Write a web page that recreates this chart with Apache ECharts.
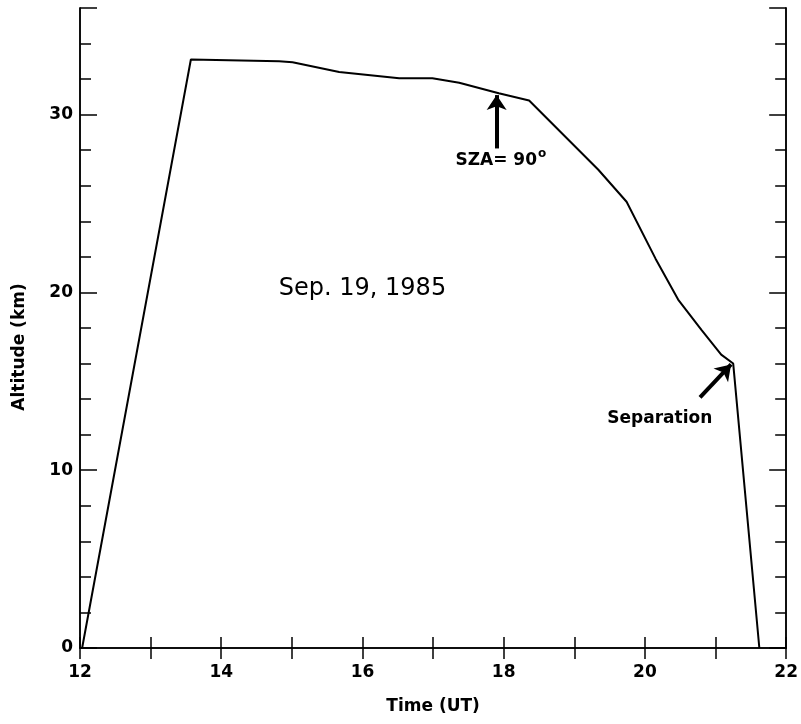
<!DOCTYPE html>
<html>
<head>
<meta charset="utf-8">
<script src="https://cdn.jsdelivr.net/npm/echarts@6/dist/echarts.min.js"></script>
<style>html,body{margin:0;padding:0;background:#fff;}#c{width:801px;height:724px;}</style>
</head>
<body>
<div id="c"></div>
<script>
// Flight profile, Sep. 19, 1985
const timeUT = [12.03, 13.57, 14.82, 15.01, 15.67, 16.52, 16.99, 17.37, 17.93, 18.36, 19.34, 19.74, 20.15, 20.47, 20.80, 21.08, 21.25, 21.62];
const altitudeKm = [0, 33.1, 33.0, 32.95, 32.4, 32.05, 32.05, 31.8, 31.2, 30.8, 26.9, 25.1, 21.9, 19.6, 17.9, 16.5, 16.0, 0];
const xTickLabels = [12, 14, 16, 18, 20, 22];
const yTickLabels = [0, 10, 20, 30];

const FONT = '"DejaVu Sans", sans-serif';
const chart = echarts.init(document.getElementById('c'));
const axisLine = {show: true, lineStyle: {color: '#000', width: 1.5}};

function xAx(pos, labels) {
  return {
    type: 'value', position: pos, min: 12, max: 22, interval: 1,
    axisLine: axisLine,
    axisTick: {show: true, inside: true, length: 11, lineStyle: {color: '#000', width: 1.5}},
    axisLabel: labels ? {show: true, margin: 16, color: '#000', fontSize: 17, fontFamily: FONT, fontWeight: 'bold',
      formatter: v => xTickLabels.indexOf(v) >= 0 ? String(v) : ''} : {show: false},
    splitLine: {show: false},
    name: labels ? 'Time (UT)' : '', nameLocation: 'middle', nameGap: 50,
    nameTextStyle: {color: '#000', fontSize: 17, fontFamily: FONT, fontWeight: 'bold'}
  };
}
function yAx(pos, interval, len, labels) {
  return {
    type: 'value', position: pos, min: 0, max: 36, interval: interval,
    axisLine: axisLine,
    axisTick: {show: true, inside: true, length: len, lineStyle: {color: '#000', width: 1.5}},
    axisLabel: labels ? {show: true, margin: 7, color: '#000', fontSize: 17, fontFamily: FONT, fontWeight: 'bold',
      formatter: v => yTickLabels.indexOf(v) >= 0 ? String(v) : ''} : {show: false},
    splitLine: {show: false},
    name: labels ? 'Altitude (km)' : '', nameLocation: 'middle', nameGap: 52, nameRotate: 90,
    nameTextStyle: {color: '#000', fontSize: 17, fontFamily: FONT, fontWeight: 'bold', padding: [0, 38, 0, 0]}
  };
}

const txt = (s, size, weight) => ({show: true, formatter: s, color: '#000', fontSize: size, fontFamily: FONT, fontWeight: weight, position: 'inside'});

chart.setOption({
  animation: false,
  backgroundColor: '#fff',
  grid: {left: 80, right: 13, top: 8, bottom: 76},
  xAxis: [xAx('bottom', true), xAx('top', false)],
  yAxis: [yAx('left', 2, 11, false), yAx('left', 10, 17, true), yAx('right', 2, 11, false), yAx('right', 10, 17, false)],
  series: [{
    type: 'line', xAxisIndex: 0, yAxisIndex: 0,
    data: timeUT.map((t, i) => [t, altitudeKm[i]]),
    showSymbol: false, symbol: 'none',
    lineStyle: {color: '#000', width: 2},
    silent: true,
    markLine: {
      silent: true, symbol: ['none', 'arrow'], symbolSize: 15,
      label: {show: false},
      lineStyle: {color: '#000', width: 4, type: 'solid'},
      data: [
        [{coord: [17.9, 28.1]}, {coord: [17.9, 31.1]}],
        [{coord: [20.78, 14.1]}, {coord: [21.22, 15.95]}]
      ]
    },
    markPoint: {
      silent: true, symbol: 'circle', symbolSize: 1, itemStyle: {color: 'rgba(0,0,0,0)'},
      data: [
        {coord: [16.0, 20.2], label: txt('Sep. 19, 1985', 24, 'normal')},
        {coord: [17.96, 27.4], label: {show: true, position: 'inside', color: '#000', fontFamily: FONT,
          formatter: '{a|SZA= 90}{b|o}', rich: {a: {fontSize: 17, fontWeight: 'bold', fontFamily: FONT, color: '#000'}, b: {fontSize: 12, fontWeight: 'bold', fontFamily: FONT, color: '#000', verticalAlign: 'top', padding: [0, 0, 14, 1]}}}},
        {coord: [20.21, 12.9], label: txt('Separation', 17, 'bold')}
      ]
    }
  }]
});
</script>
</body>
</html>
